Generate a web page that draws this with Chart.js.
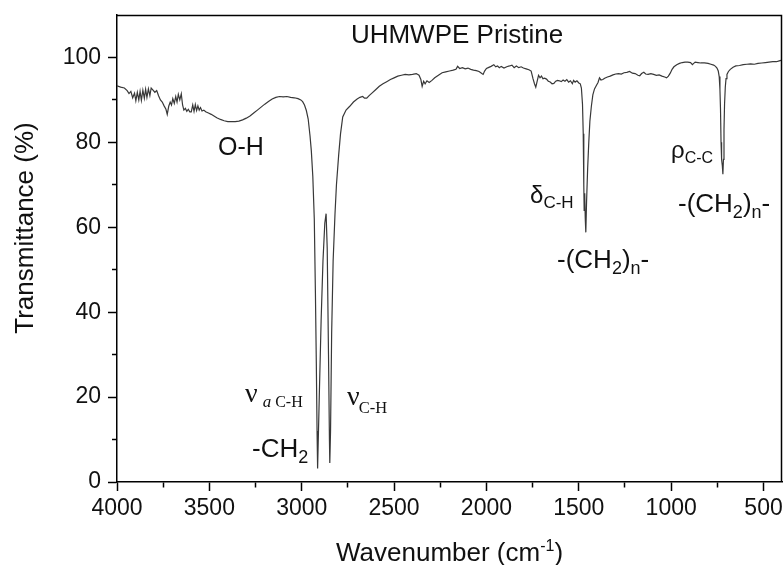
<!DOCTYPE html>
<html>
<head>
<meta charset="utf-8">
<script src="https://cdn.jsdelivr.net/npm/chart.js@4/dist/chart.umd.min.js"></script>
<style>
  html, body { margin: 0; padding: 0; background: #fff; }
  #c { display: block; }
</style>
</head>
<body>
<canvas id="c" width="784" height="565"></canvas>
<script>
// ---- DATA ----
const wavenumbers = [
  4000, 3980, 3960, 3945, 3935, 3925, 3915, 3905, 3898, 3890, 3882, 3875, 3868, 3860, 3852, 3845, 3838, 3830, 3822, 3815,
  3805, 3795, 3785, 3775, 3765, 3755, 3745, 3735, 3728, 3720, 3712, 3705, 3698, 3690, 3682, 3675, 3668, 3660, 3652, 3645,
  3638, 3630, 3622, 3614, 3606, 3598, 3590, 3583, 3576, 3569, 3562, 3555, 3548, 3540, 3530, 3520, 3505, 3490, 3475, 3460,
  3440, 3420, 3400, 3380, 3360, 3340, 3320, 3300, 3280, 3260, 3240, 3220, 3200, 3180, 3160, 3140, 3120, 3100, 3080, 3060,
  3040, 3020, 3005, 2995, 2985, 2975, 2965, 2955, 2948, 2940, 2932, 2926, 2921, 2917, 2914, 2905, 2895, 2885, 2875, 2868,
  2862, 2855, 2850, 2848, 2844, 2838, 2830, 2820, 2812, 2800, 2790, 2778, 2760, 2740, 2720, 2700, 2685, 2670, 2660, 2648,
  2635, 2620, 2600, 2580, 2560, 2540, 2520, 2500, 2480, 2460, 2440, 2420, 2400, 2380, 2365, 2355, 2348, 2340, 2332, 2322,
  2310, 2295, 2280, 2260, 2240, 2220, 2200, 2180, 2165, 2156, 2145, 2130, 2115, 2100, 2085, 2070, 2055, 2040, 2025, 2018,
  2010, 2000, 1990, 1975, 1960, 1950, 1940, 1930, 1920, 1905, 1890, 1875, 1862, 1850, 1838, 1825, 1812, 1800, 1785, 1770,
  1758, 1748, 1740, 1733, 1725, 1718, 1710, 1702, 1694, 1685, 1675, 1665, 1655, 1645, 1635, 1625, 1615, 1605, 1595, 1585,
  1575, 1565, 1555, 1545, 1535, 1528, 1520, 1510, 1500, 1492, 1486, 1480, 1476, 1473, 1471, 1468, 1465, 1462, 1458, 1452,
  1446, 1440, 1432, 1424, 1415, 1405, 1396, 1388, 1380, 1370, 1360, 1345, 1330, 1315, 1300, 1285, 1270, 1255, 1240, 1225,
  1210, 1195, 1180, 1170, 1160, 1148, 1138, 1125, 1110, 1095, 1080, 1065, 1050, 1035, 1025, 1015, 1005, 995, 985, 970,
  955, 940, 925, 910, 895, 885, 878, 870, 855, 840, 820, 800, 785, 770, 760, 752, 745, 740, 736, 733,
  730, 727, 723, 720, 717, 714, 711, 707, 703, 698, 690, 680, 665, 650, 630, 610, 590, 570, 550, 530,
  510, 490, 470, 450, 430, 415, 400
];
const transmittance = [
  93.3, 93.0, 92.8, 92.2, 91.5, 92.0, 90.5, 91.6, 89.8, 91.8, 90.0, 92.0, 89.9, 92.3, 90.4, 92.5, 90.6, 92.6, 91.0, 92.8,
  92.3, 91.8, 92.2, 91.0, 90.0, 89.5, 88.6, 87.8, 86.6, 88.5, 89.5, 88.8, 90.3, 89.2, 90.8, 89.5, 91.3, 90.0, 91.4, 88.8,
  87.6, 88.0, 87.3, 87.8, 87.2, 87.2, 88.8, 87.3, 88.9, 87.5, 88.6, 87.6, 88.2, 87.4, 87.6, 87.2, 86.9, 86.6, 86.2, 85.8,
  85.4, 85.1, 84.9, 84.9, 84.9, 85.0, 85.3, 85.7, 86.2, 86.9, 87.6, 88.3, 89.0, 89.6, 90.2, 90.6, 90.8, 90.7, 90.8, 90.6,
  90.5, 90.3, 90.0, 89.6, 88.8, 87.5, 85.5, 81.5, 78.0, 72.0, 62.0, 45.0, 28.0, 12.0, 3.2, 20.0, 38.0, 52.0, 61.0, 63.2,
  55.0, 30.0, 10.0, 4.5, 12.0, 35.0, 52.0, 63.0, 70.0, 77.0, 82.0, 86.0, 87.6, 88.5, 89.5, 90.2, 90.6, 90.8, 90.4, 90.4,
  91.0, 91.6, 92.4, 93.2, 93.8, 94.3, 94.8, 95.2, 95.6, 95.8, 96.0, 95.9, 96.0, 96.2, 95.8, 94.8, 93.2, 94.4, 93.8, 94.5,
  94.1, 94.6, 95.2, 95.8, 96.4, 96.6, 96.8, 97.0, 97.2, 97.9, 97.4, 97.6, 97.3, 97.5, 97.2, 97.0, 96.9, 96.7, 96.2, 96.0,
  96.8, 97.4, 97.6, 97.9, 98.3, 97.8, 98.0, 97.6, 97.9, 97.5, 97.8, 98.0, 98.2, 97.6, 98.0, 97.6, 97.8, 97.5, 97.3, 97.1,
  96.8, 95.0, 93.8, 93.0, 94.5, 95.8, 95.2, 95.6, 95.0, 95.1, 94.9, 94.4, 94.2, 93.8, 93.9, 94.4, 94.6, 94.5, 94.3, 94.7,
  94.4, 94.8, 94.2, 94.5, 93.8, 94.6, 94.2, 94.5, 94.0, 93.8, 92.8, 89.0, 82.0, 70.0, 64.0, 68.0, 62.0, 58.8, 66.0, 74.0,
  80.0, 85.0, 88.5, 91.2, 92.6, 93.4, 94.1, 95.2, 94.7, 94.8, 95.1, 95.4, 95.6, 95.9, 96.1, 96.2, 96.1, 96.4, 96.5, 96.7,
  96.3, 96.2, 95.8, 95.7, 96.2, 96.5, 96.1, 96.0, 96.2, 96.0, 95.8, 95.9, 95.6, 95.4, 95.2, 95.6, 96.3, 97.2, 97.8, 98.3,
  98.6, 98.8, 98.9, 98.9, 98.8, 98.3, 98.6, 98.9, 98.8, 98.7, 98.7, 98.6, 98.4, 98.2, 97.9, 97.5, 96.8, 95.5, 92.5, 88.0,
  80.0, 76.0, 74.5, 72.5, 76.0, 83.0, 89.0, 93.0, 95.0, 96.0, 96.7, 97.2, 97.7, 98.0, 98.1, 98.3, 98.4, 98.5, 98.4, 98.6,
  98.7, 98.8, 98.9, 99.0, 99.0, 99.2, 99.4
];
const xTickValues = [4000, 3750, 3500, 3250, 3000, 2750, 2500, 2250, 2000, 1750, 1500, 1250, 1000, 750, 500];
const xMajorLabels = [4000, 3500, 3000, 2500, 2000, 1500, 1000, 500];
const yTickValues = [0, 10, 20, 30, 40, 50, 60, 70, 80, 90, 100];
const yMajorLabels = [0, 20, 40, 60, 80, 100];
const chartTitle = 'UHMWPE Pristine';
const xTitle = ['Wavenumber (cm', '-1', ')'];
const yTitle = 'Transmittance (%)';

// ---- annotation texts (anchored in data coordinates) ----
const SANS = '"Liberation Sans", Arial, sans-serif';
const SERIF = '"Liberation Serif", "Times New Roman", serif';
const annotations = [
  { wn: 3453, t: 77.0, parts: [{ s: 'O-H', size: 25 }] },
  { wn: 3269, t: 5.9, parts: [{ s: '-CH', size: 26 }, { s: '2', size: 18, dy: 6 }] },
  { wn: 3307, t: 18.8, parts: [{ s: 'ν', size: 28, fam: SERIF }, { s: 'a', size: 17, fam: SERIF, it: true, dy: 5, gap: 5 }, { s: 'C-H', size: 16, fam: SERIF, dy: 5, gap: 4 }] },
  { wn: 2755, t: 18.1, parts: [{ s: 'ν', size: 28, fam: SERIF }, { s: 'C-H', size: 16.5, fam: SERIF, dy: 8, gap: -1 }] },
  { wn: 1764, t: 65.7, parts: [{ s: 'δ', size: 24 }, { s: 'C-H', size: 17, dy: 5 }] },
  { wn: 1618, t: 50.4, parts: [{ s: '-(CH', size: 26 }, { s: '2', size: 18, dy: 6 }, { s: ')', size: 26 }, { s: 'n', size: 18, dy: 6 }, { s: '-', size: 26 }] },
  { wn: 1001, t: 76.3, parts: [{ s: 'ρ', size: 24 }, { s: 'C-C', size: 16, dy: 5 }] },
  { wn: 963, t: 63.6, parts: [{ s: '-(CH', size: 26 }, { s: '2', size: 18, dy: 6 }, { s: ')', size: 26 }, { s: 'n', size: 18, dy: 6 }, { s: '-', size: 26 }] }
];

const points = wavenumbers.map((w, i) => ({ x: w, y: transmittance[i] }));

function drawParts(ctx, x, y, parts) {
  let cx = x;
  parts.forEach(p => {
    ctx.font = (p.it ? 'italic ' : '') + p.size + 'px ' + (p.fam || SANS);
    cx += (p.gap || 0);
    ctx.fillText(p.s, cx, y + (p.dy || 0));
    cx += ctx.measureText(p.s).width;
  });
}

const decor = {
  id: 'decor',
  afterDatasetsDraw(chart) {
    const ctx = chart.ctx;
    const a = chart.chartArea;
    const xs = chart.scales.x, ys = chart.scales.y;
    ctx.save();
    // frame top & right
    ctx.strokeStyle = '#000';
    ctx.lineWidth = 1.5;
    ctx.beginPath();
    ctx.moveTo(a.left, a.top + 0.5);
    ctx.lineTo(a.right - 0.5, a.top + 0.5);
    ctx.lineTo(a.right - 0.5, a.bottom);
    ctx.stroke();

    ctx.fillStyle = '#111';
    ctx.textBaseline = 'alphabetic';
    // chart title
    ctx.font = '26px ' + SANS;
    ctx.textAlign = 'center';
    ctx.fillText(chartTitle, xs.getPixelForValue(2159), ys.getPixelForValue(103.4));
    ctx.textAlign = 'left';
    annotations.forEach(an => {
      drawParts(ctx, xs.getPixelForValue(an.wn), ys.getPixelForValue(an.t), an.parts);
    });

    // x title with superscript
    ctx.font = '26px ' + SANS;
    const w0 = ctx.measureText(xTitle[0]).width;
    const w2 = ctx.measureText(xTitle[2]).width;
    ctx.font = '16px ' + SANS;
    const w1 = ctx.measureText(xTitle[1]).width;
    const total = w0 + w1 + w2;
    const sx = (a.left + a.right) / 2 - total / 2;
    const by = 561;
    ctx.font = '26px ' + SANS;
    ctx.fillText(xTitle[0], sx, by);
    ctx.font = '16px ' + SANS;
    ctx.fillText(xTitle[1], sx + w0, by - 10);
    ctx.font = '26px ' + SANS;
    ctx.fillText(xTitle[2], sx + w0 + w1, by);

    // y title rotated
    ctx.save();
    ctx.translate(33, 228);
    ctx.rotate(-Math.PI / 2);
    ctx.textAlign = 'center';
    ctx.font = '26px ' + SANS;
    ctx.fillText(yTitle, 0, 0);
    ctx.restore();
    ctx.restore();
  }
};

Chart.defaults.font.family = SANS;
Chart.defaults.color = '#111';

new Chart(document.getElementById('c'), {
  type: 'line',
  data: {
    datasets: [{
      data: points,
      borderColor: '#383838',
      borderWidth: 1.2,
      pointRadius: 0,
      tension: 0,
      fill: false
    }]
  },
  options: {
    responsive: false,
    animation: false,
    devicePixelRatio: 1,
    layout: { padding: { top: 15, right: 2, left: 0, bottom: 0 } },
    plugins: { legend: { display: false }, tooltip: { enabled: false } },
    scales: {
      x: {
        type: 'linear',
        reverse: true,
        min: 400,
        max: 4000,
        afterBuildTicks: s => { s.ticks = xTickValues.map(v => ({ value: v })); },
        afterFit: s => { s.height = 83; s.paddingLeft = 0; s.paddingRight = 0; },
        ticks: {
          autoSkip: false,
          maxRotation: 0,
          padding: 4,
          font: { size: 23 },
          color: '#111',
          callback: v => xMajorLabels.includes(v) ? String(v) : ''
        },
        grid: {
          drawOnChartArea: false,
          drawTicks: true,
          tickLength: 9,
          tickWidth: 1.5,
          tickColor: '#000',
          tickBorderDash: c => (c.tick && xMajorLabels.includes(c.tick.value)) ? [] : [5, 100]
        },
        border: { display: true, color: '#000', width: 1.5 }
      },
      y: {
        type: 'linear',
        min: 0,
        max: 110,
        afterBuildTicks: s => { s.ticks = yTickValues.map(v => ({ value: v })); },
        afterFit: s => { s.width = 117; s.paddingTop = 0; s.paddingBottom = 0; },
        ticks: {
          autoSkip: false,
          padding: 7,
          font: { size: 23 },
          color: '#111',
          callback: v => yMajorLabels.includes(v) ? String(v) : ''
        },
        grid: {
          drawOnChartArea: false,
          drawTicks: true,
          tickLength: 9,
          tickWidth: 1.5,
          tickColor: '#000',
          tickBorderDash: c => (c.tick && yMajorLabels.includes(c.tick.value)) ? [] : [0, 4, 5, 100]
        },
        border: { display: true, color: '#000', width: 1.5 }
      }
    }
  },
  plugins: [decor]
});
</script>
</body>
</html>
